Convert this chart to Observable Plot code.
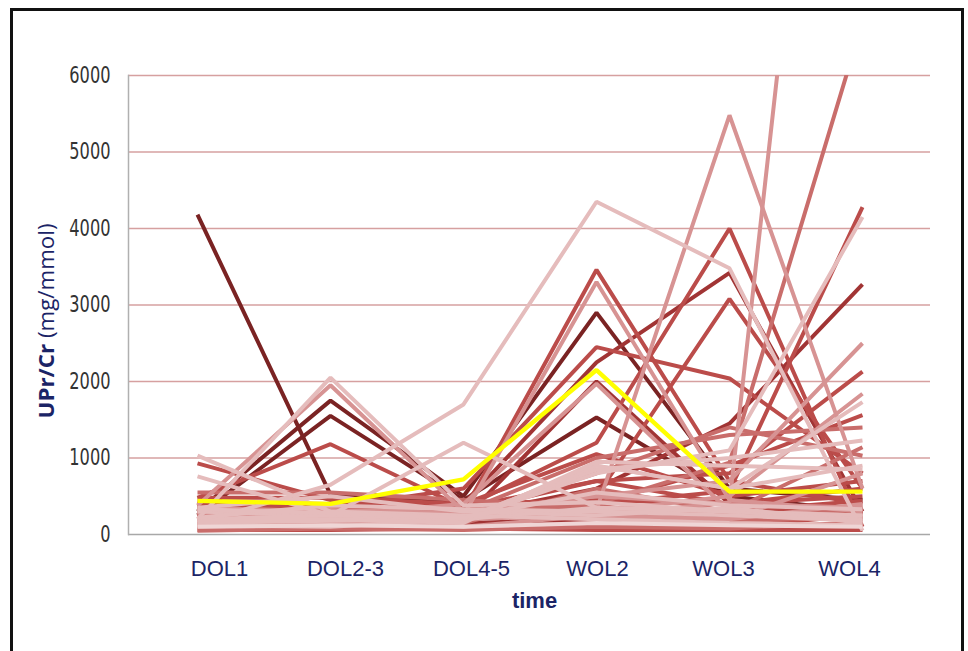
<!DOCTYPE html>
<html>
<head>
<meta charset="utf-8">
<script src="https://cdn.jsdelivr.net/npm/d3@7"></script>
<script src="https://cdn.jsdelivr.net/npm/@observablehq/plot@0.6"></script>
<style>
  html, body { margin: 0; padding: 0; background: #fff; }
  #wrap { position: relative; width: 968px; height: 651px; overflow: hidden; background: #fff; }
  #frame { position: absolute; left: 10px; top: 8px; width: 954px; height: 720px; border: 3px solid #111; box-sizing: border-box; pointer-events: none; }
  #chart, #xlabels { position: absolute; left: 0; }
  #chart { top: 0; }
  #xlabels { top: 534px; }
</style>
</head>
<body>
<div id="wrap">
  <div id="chart"></div>
  <div id="xlabels"></div>
  <div id="frame"></div>
</div>
<script>
// Sampling times
const categories = ["DOL1", "DOL2-3", "DOL4-5", "WOL2", "WOL3", "WOL4"];
const yTicks = [0, 1000, 2000, 3000, 4000, 5000, 6000];

// Median UPr/Cr per time point
const medianValues = [440, 400, 720, 2150, 560, 560];

// Individual patients: UPr/Cr (mg/mmol) at each time point
const patientValues = [
  [4180, 520, 420, 300, 250, 200],
  [1030, 300, 250, 200, 150, 120],
  [930, 450, 380, 320, 260, 300],
  [760, 250, 200, 350, 300, 200],
  [200, 2050, 380, 420, 300, 250],
  [380, 1950, 300, 500, 400, 350],
  [300, 1750, 500, 2900, 600, 450],
  [250, 1550, 450, 1530, 500, 300],
  [480, 1180, 350, 700, 400, 600],
  [150, 650, 1700, 4350, 3480, 50],
  [300, 250, 1200, 350, 300, 250],
  [400, 350, 300, 3460, 700, 400],
  [350, 300, 250, 3300, 450, 300],
  [400, 350, 600, 2450, 2040, 800],
  [300, 250, 400, 1970, 300, 200],
  [300, 250, 350, 1200, 4000, 100],
  [350, 300, 400, 2250, 3420, 300],
  [250, 200, 300, 500, 3080, 600],
  [200, 150, 250, 320, 5480, 600],
  [150, 120, 200, 250, 420, 16000],
  [200, 180, 300, 400, 940, 6700],
  [300, 250, 300, 400, 570, 4280],
  [200, 250, 200, 800, 1100, 4150],
  [300, 300, 250, 600, 1450, 3270],
  [200, 200, 300, 500, 700, 2500],
  [250, 250, 300, 700, 800, 2130],
  [300, 200, 250, 300, 500, 1840],
  [150, 180, 200, 900, 600, 1730],
  [350, 300, 300, 400, 900, 1560],
  [250, 200, 300, 1000, 1300, 1400],
  [200, 200, 200, 850, 1000, 1230],
  [100, 150, 150, 600, 300, 1140],
  [180, 220, 250, 800, 1400, 1030],
  [120, 100, 200, 900, 600, 900],
  [100, 150, 100, 250, 200, 800],
  [350, 350, 300, 350, 300, 440],
  [150, 100, 150, 200, 150, 350],
  [100, 100, 100, 150, 100, 250],
  [50, 80, 60, 100, 80, 160],
  [550, 550, 450, 350, 250, 300],
  [480, 480, 400, 450, 400, 500],
  [100, 120, 100, 150, 120, 100],
  [60, 60, 80, 60, 60, 60],
  [350, 500, 300, 250, 350, 150],
  [300, 300, 400, 1050, 500, 700],
  [200, 200, 150, 950, 900, 850],
  [200, 200, 200, 2000, 400, 300],
  [280, 320, 280, 250, 200, 400],
  [220, 380, 330, 300, 250, 180],
  [160, 260, 220, 380, 180, 220],
  [420, 400, 350, 280, 330, 280],
  [330, 280, 220, 550, 380, 330]
];

// Shade group of each patient line (0 = darkest)
const patientShades = [
  0, 5, 2, 5, 5, 4, 0, 0, 2, 5,
  5, 2, 4, 2, 4, 2, 1, 2, 4, 4,
  3, 2, 5, 1, 4, 2, 4, 5, 2, 3,
  5, 3, 3, 5, 4, 2, 1, 2, 3, 3,
  2, 6, 2, 5, 2, 5, 1, 4, 5, 3,
  2, 5
];

const shadePalette = ["#7a2323", "#a13434", "#bb4c4a", "#c96d6b", "#d79393", "#e5bcbc", "#efd6d6"];
const navy = "#1b2466";

// Long-format rows, darker lines drawn first
const rows = patientValues
  .map((vals, id) => vals.map((v, j) => ({id, time: categories[j], value: v, shade: patientShades[id]})))
  .sort((a, b) => a[0].shade - b[0].shade)
  .flat();
const medianRows = medianValues.map((v, j) => ({time: categories[j], value: v}));

const chart = Plot.plot({
  width: 968,
  height: 651,
  marginLeft: 128,
  marginRight: 38,
  marginTop: 75,
  marginBottom: 117,
  style: {fontFamily: "'DejaVu Sans Condensed', 'Liberation Sans', sans-serif", background: "transparent"},
  x: {type: "point", domain: categories, padding: 0.5, axis: null},
  y: {domain: [0, 6000]},
  color: {type: "ordinal", domain: d3.range(shadePalette.length), range: shadePalette},
  marks: [
    Plot.ruleY(yTicks.filter(d => d > 0), {stroke: "#d6a0a0", strokeWidth: 1.3}),
    Plot.axisY({ticks: yTicks, tickSize: 0, tickPadding: 18, label: null, fontSize: 23, fill: "#333333", tickFormat: d => String(d)}),
    Plot.line(rows, {x: "time", y: "value", z: "id", stroke: "shade", strokeWidth: 4, strokeLinejoin: "miter", strokeLinecap: "butt", clip: true}),
    Plot.line(medianRows, {x: "time", y: "value", stroke: "#ffff00", strokeWidth: 4.4, strokeLinejoin: "miter", strokeLinecap: "butt", clip: true}),
    Plot.ruleY([0], {stroke: "#a8a8a8", strokeWidth: 1.5}),
    Plot.frame({anchor: "left", stroke: "#b0b0b0", strokeWidth: 1.5})
  ]
});
document.getElementById("chart").appendChild(chart);

const svg = d3.select(chart);

// Narrow the tick numerals
svg.selectAll('g[aria-label="y-axis tick label"] text').each(function() {
  const n = this.textContent.length;
  this.setAttribute("textLength", n * 10.3);
  this.setAttribute("lengthAdjust", "spacingAndGlyphs");
});

// Y axis title with bold measure name
const title = svg.append("text")
  .attr("transform", "translate(54,321) rotate(-90)")
  .attr("text-anchor", "middle")
  .attr("fill", navy)
  .attr("font-family", "'Open Sans', Lato, sans-serif")
  .attr("font-size", 21)
  .attr("textLength", 195)
  .attr("lengthAdjust", "spacingAndGlyphs");
title.append("tspan").attr("font-weight", "bold").text("UPr/Cr");
title.append("tspan").text(" (mg/mmol)");

// Category labels and axis title below the plot
const xlab = Plot.plot({
  width: 968,
  height: 100,
  marginLeft: 155,
  marginRight: 55,
  marginTop: 0,
  marginBottom: 0,
  style: {fontFamily: "'Liberation Sans', Arial, sans-serif", background: "transparent"},
  x: {type: "point", domain: categories, padding: 0.5, axis: null},
  marks: [
    Plot.text(categories, {x: d => d, frameAnchor: "top", dy: 41, lineAnchor: "bottom", fontSize: 22, fill: navy}),
    Plot.text(["time"], {frameAnchor: "top", dy: 73, lineAnchor: "bottom", fontSize: 22, fontWeight: "bold", fill: navy})
  ]
});
document.getElementById("xlabels").appendChild(xlab);
</script>
</body>
</html>
